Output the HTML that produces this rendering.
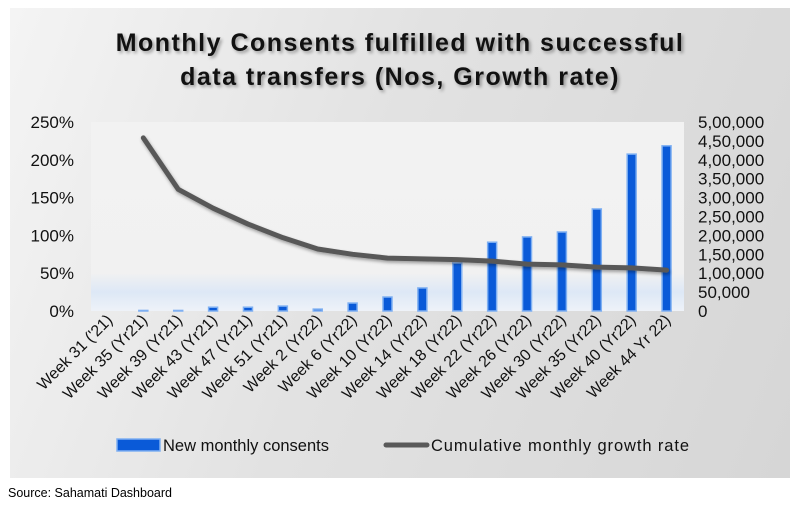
<!DOCTYPE html>
<html><head><meta charset="utf-8"><style>
body{margin:0;background:#fff;width:801px;height:506px;overflow:hidden;font-family:"Liberation Sans",sans-serif}
#panel{position:absolute;left:10px;top:8px;width:780px;height:470px;background:linear-gradient(110deg,#f4f4f4 0%,#e2e2e2 45%,#d6d6d6 100%)}
#title{position:absolute;left:10px;top:26px;width:780px;text-align:center;font-weight:bold;font-size:25px;line-height:34px;letter-spacing:1.5px;color:#111;text-shadow:2px 2px 3px rgba(0,0,0,.35)}
#src{position:absolute;left:8px;top:486px;font-size:12.5px;color:#000}
</style></head><body>
<div id="panel"></div>
<div id="title">Monthly Consents fulfilled with successful<br>data transfers (Nos, Growth rate)</div>
<svg id="chart" width="801" height="506" style="position:absolute;left:0;top:0">
<defs>
<linearGradient id="pg" x1="0" y1="0" x2="0" y2="1">
<stop offset="0" stop-color="#f2f2f2"/><stop offset="0.8" stop-color="#f1f1f1"/><stop offset="0.9" stop-color="#dde8f6"/><stop offset="1" stop-color="#eef2f8"/>
</linearGradient>
<filter id="sh"><feDropShadow dx="1" dy="2" stdDeviation="1.5" flood-opacity="0.35"/></filter>
</defs>
<rect x="91" y="122" width="593" height="189" fill="url(#pg)"/>
<g id="g"></g>
</svg>
<div id="src">Source: Sahamati Dashboard</div>
<script>
const categories=["Week 31 ('21)","Week 35 (Yr21)","Week 39 (Yr21)","Week 43 (Yr21)","Week 47 (Yr21)","Week 51 (Yr21)","Week 2  (Yr22)","Week 6 (Yr22)","Week 10 (Yr22)","Week 14 (Yr22)","Week 18 (Yr22)","Week 22 (Yr22)","Week 26 (Yr22)","Week 30 (Yr22)","Week 35 (Yr22)","Week 40 (Yr22)","Week 44 Yr 22)"];
const consents=[null,1500,1500,10000,10000,13000,5000,21000,37000,61000,127000,182000,196000,209000,270000,415000,437000];
const growth=[null,229,161,136,115,97,82,75,70,69,68,66,62,61,58,57,54];
const leftTicks=["0%","50%","100%","150%","200%","250%"];
const leftTickValues=[0,50,100,150,200,250];
const rightTicks=["0","50,000","1,00,000","1,50,000","2,00,000","2,50,000","3,00,000","3,50,000","4,00,000","4,50,000","5,00,000"];
const rightTickValues=[0,50000,100000,150000,200000,250000,300000,350000,400000,450000,500000];
const NS="http://www.w3.org/2000/svg",g=document.getElementById('g');
const X0=91,X1=684,Y0=311,Y1=122,band=(X1-X0)/categories.length;
const xc=i=>X0+band*(i+0.5);
const yL=v=>Y0-(v/250)*(Y0-Y1);
const yR=v=>Y0-(v/500000)*(Y0-Y1);
function mk(t,a){const e=document.createElementNS(NS,t);for(const k in a)e.setAttribute(k,a[k]);g.appendChild(e);return e;}
leftTickValues.forEach((v,i)=>{const t=mk('text',{x:74,y:yL(v)+6,'text-anchor':'end','font-size':17,fill:'#111'});t.textContent=leftTicks[i];

});
rightTickValues.forEach((v,i)=>{const t=mk('text',{x:698,y:yR(v)+6,'font-size':17,fill:'#111'});t.textContent=rightTicks[i];

});
consents.forEach((v,i)=>{if(v==null)return;const y=yR(v);const r=mk('rect',{x:xc(i)-4.5,y:y,width:9,height:Y0-y,fill:'#0a5ad8',stroke:'#7fb0f2','stroke-width':1.5});

});
let d='';growth.forEach((v,i)=>{if(v==null)return;d+=(d?'L':'M')+xc(i)+','+yL(v);});
const p=mk('path',{d:d,fill:'none',stroke:'#595959','stroke-width':5,'stroke-linecap':'round','stroke-linejoin':'round',filter:'url(#sh)'});


categories.forEach((c,i)=>{const x=xc(i)+5,y=321;const t=mk('text',{x:x,y:y,'text-anchor':'end','font-size':16,fill:'#111',transform:`rotate(-45 ${x} ${y})`});t.textContent=c;

});
const l1=mk('rect',{x:117,y:439,width:43,height:12,fill:'#0a5ad8',stroke:'#7fb0f2','stroke-width':1.5});


const t1=mk('text',{x:163,y:451,'font-size':16.5,fill:'#111'});t1.textContent='New monthly consents';


const l2=mk('line',{x1:386,y1:445,x2:427,y2:445,stroke:'#595959','stroke-width':5,'stroke-linecap':'round'});


const t2=mk('text',{x:431,y:451,'font-size':16.5,fill:'#111',textLength:258});t2.textContent='Cumulative monthly growth rate';


</script>
</body></html>
